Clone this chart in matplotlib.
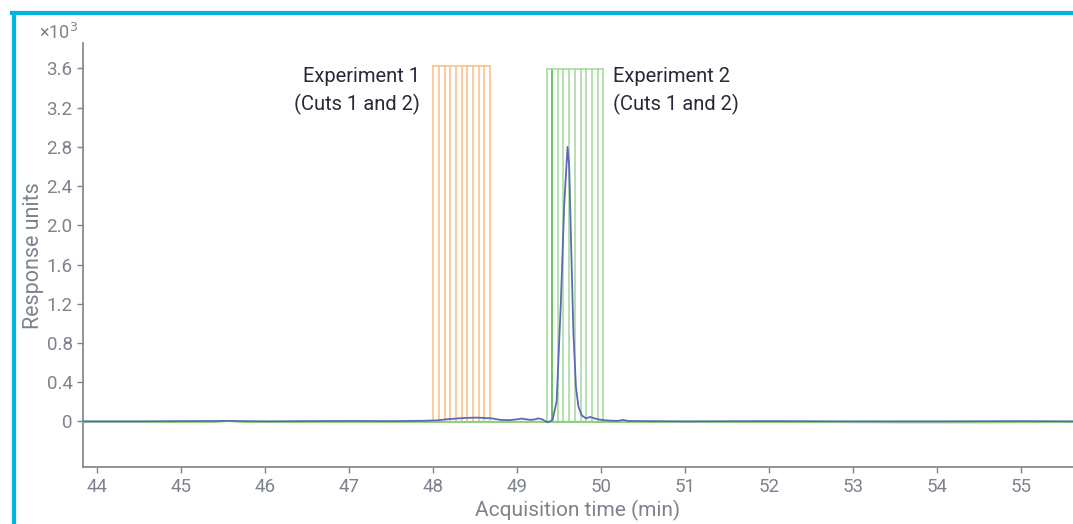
import matplotlib.pyplot as plt
import numpy as np

plt.rcParams['font.family'] = ['Roboto', 'DejaVu Sans']

# chromatogram (blue trace), response in x10^3
time_blue = [43.83, 44.5, 45.0, 45.5, 46.0, 46.5, 47.0, 47.5, 47.9, 48.05, 48.15, 48.3,
             48.4, 48.5, 48.6, 48.7, 48.8, 48.9, 49.0, 49.05, 49.1, 49.15, 49.2, 49.25,
             49.3, 49.36, 49.42, 49.47, 49.52, 49.56, 49.6, 49.62, 49.64, 49.67, 49.7,
             49.73, 49.77, 49.82, 49.87, 49.92, 49.97, 50.05, 50.2, 50.26, 50.32, 50.5,
             51.0, 52.0, 53.0, 54.0, 55.0, 55.62]
resp_blue = [0.0, 0.0, 0.002, 0.004, 0.0, 0.002, 0.004, 0.002, 0.006, 0.01, 0.02, 0.03,
             0.035, 0.038, 0.035, 0.03, 0.015, 0.012, 0.02, 0.028, 0.022, 0.015, 0.018,
             0.03, 0.02, -0.01, 0.01, 0.2, 1.2, 2.2, 2.8, 2.6, 1.9, 0.9, 0.35, 0.15, 0.06,
             0.03, 0.045, 0.03, 0.02, 0.01, 0.004, 0.015, 0.004, 0.002, 0.0, 0.002, 0.0,
             0.0, 0.002, 0.0]

# second trace (green), nearly flat
time_green = [43.83, 45.4, 45.55, 45.75, 47.0, 49.3, 50.1, 52.0, 53.1, 53.5, 54.5, 55.0, 55.62]
resp_green = [-0.006, -0.006, 0.004, -0.006, -0.006, -0.006, -0.006, -0.006, -0.008, -0.01,
              -0.01, -0.008, -0.006]

# heart-cut windows (min)
cuts_exp1 = np.round(np.linspace(48.0, 48.675, 11), 3)
cuts_exp2 = np.round(np.linspace(49.35, 50.025, 11), 3)
top_exp1 = 3.62
top_exp2 = 3.59

orange = '#fcc28c'
green_light = '#a9dba2'
green_dark = '#4cb944'
blue = '#5c6ab4'
gray = '#7d828c'

fig = plt.figure(figsize=(10.73, 5.24), dpi=100)
ax = fig.add_axes([0.0774, 0.108, 0.9226, 0.81])

# cyan frame
fig.add_artist(plt.Line2D([0.0126, 0.0126], [0, 0.975], transform=fig.transFigure,
                          color='#00b4e0', lw=3.0))
fig.add_artist(plt.Line2D([0.0112, 1.0], [0.975, 0.975], transform=fig.transFigure,
                          color='#00b4e0', lw=3.0))

for i, x in enumerate(cuts_exp1):
    ax.plot([x, x], [0, top_exp1], color=orange, lw=1.2, zorder=2)
ax.plot([cuts_exp1[0], cuts_exp1[-1]], [top_exp1, top_exp1], color=orange, lw=1.2, zorder=2)

for i, x in enumerate(cuts_exp2):
    c = green_dark if i == 1 else green_light
    ax.plot([x, x], [0, top_exp2], color=c, lw=1.2, zorder=2)
ax.plot([cuts_exp2[0], cuts_exp2[-1]], [top_exp2, top_exp2], color=green_light, lw=1.2, zorder=2)
ax.plot([cuts_exp2[0], cuts_exp2[-1]], [-0.004, -0.004], color=orange, lw=1.5, zorder=3)

ax.plot(time_green, resp_green, color='#8fd07e', lw=1.5, zorder=3)
ax.plot(time_blue, resp_blue, color=blue, lw=1.3, zorder=4)

ax.text(47.84, 3.61, 'Experiment 1\n(Cuts 1 and 2)', ha='right', va='top', fontsize=14.5,
        color='#262a36', linespacing=1.45)
ax.text(50.14, 3.61, 'Experiment 2\n(Cuts 1 and 2)', ha='left', va='top', fontsize=14.5,
        color='#262a36', linespacing=1.45)

ax.set_xlim(43.83, 55.62)
ax.set_ylim(-0.47, 3.86)
ax.set_xticks(range(44, 56))
ax.set_yticks([0, 0.4, 0.8, 1.2, 1.6, 2.0, 2.4, 2.8, 3.2, 3.6])
ax.set_yticklabels(['0', '0.4', '0.8', '1.2', '1.6', '2.0', '2.4', '2.8', '3.2', '3.6'])
ax.tick_params(colors=gray, labelsize=13.5, length=4, width=1)
for s in ['top', 'right']:
    ax.spines[s].set_visible(False)
for s in ['left', 'bottom']:
    ax.spines[s].set_color(gray)
    ax.spines[s].set_linewidth(1.2)

ax.set_xlabel('Acquisition time (min)', fontsize=15, color=gray, labelpad=3)
ax.set_ylabel('Response units', fontsize=15.5, color=gray, labelpad=2)
ax.text(-0.005, 1.0, '×10$^3$', transform=ax.transAxes, ha='right', va='bottom',
        fontsize=13, color=gray)

fig.savefig('out.png', dpi=100)
